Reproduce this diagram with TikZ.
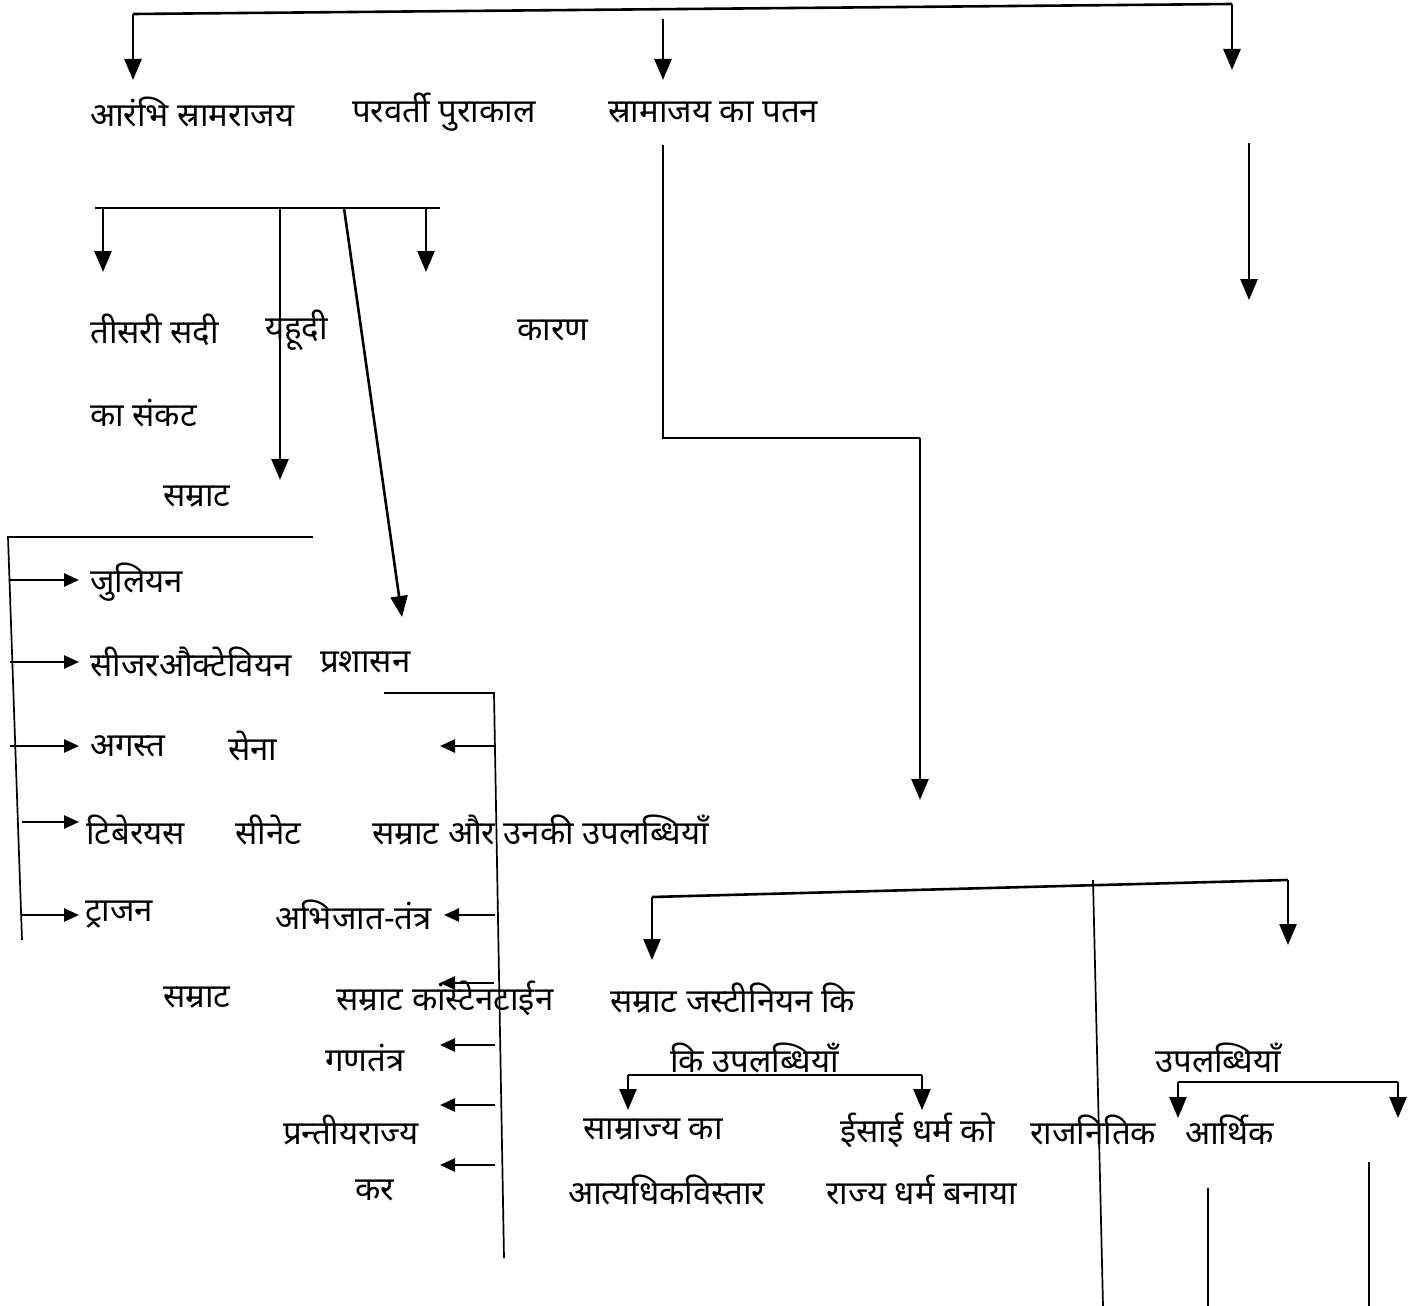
\documentclass[tikz,border=0pt]{standalone}
\usepackage{fontspec}
\newfontfamily\dev[Script=Devanagari]{Noto Sans}
\usetikzlibrary{arrows.meta}
\begin{document}
\begin{tikzpicture}[x=1pt,y=-1pt,
  lbl/.style={anchor=west,inner sep=0pt,font=\dev\fontsize{33}{38}\selectfont},
  ln/.style={line width=2.6pt},
  thin/.style={line width=1.7pt},
  arr/.style={line width=2.6pt,-{Triangle[width=17pt,length=21pt]}},
  harr/.style={line width=2.6pt,-{Triangle[width=13pt,length=15pt]}}]
\useasboundingbox[fill=white] (0,0) rectangle (1411,1306);
% texts
\node[lbl] (t1) at (90,112) {आरंभि स्रामराजय};
\node[lbl] (t2) at (352,112) {परवर्ती पुराकाल};
\node[lbl] (t3) at (608,112) {स्रामाजय का पतन};
\node[lbl] (t4) at (90,330) {तीसरी सदी};
\node[lbl] (t5) at (265,330) {यहूदी};
\node[lbl] (t6) at (517,330) {कारण};
\node[lbl] (t7) at (90,413) {का संकट};
\node[lbl] (t8) at (163,497) {सम्राट};
\node[lbl] (e1) at (90,582) {जुलियन};
\node[lbl] (e2) at (90,662) {सीजरऔक्टेवियन};
\node[lbl] (a1) at (320,662) {प्रशासन};
\node[lbl] (e3) at (90,746) {अगस्त};
\node[lbl] (a2) at (228,746) {सेना};
\node[lbl] (e4) at (86,830) {टिबेरयस};
\node[lbl] (a3) at (235,830) {सीनेट};
\node[lbl] (s1) at (372,830) {सम्राट और उनकी उपलब्धियाँ};
\node[lbl] (e5) at (85,915) {ट्राजन};
\node[lbl] (a4) at (275,915) {अभिजात-तंत्र};
\node[lbl] (r1) at (163,998) {सम्राट};
\node[lbl] (c1) at (336,998) {सम्राट कांस्टेनटाईन};
\node[lbl] (j1) at (610,998) {सम्राट जस्टीनियन कि};
\node[lbl] (a5) at (325,1058) {गणतंत्र};
\node[lbl] (j2) at (670,1058) {कि उपलब्धियाँ};
\node[lbl] (u1) at (1155,1058) {उपलब्धियाँ};
\node[lbl] (a6) at (283,1130) {प्रन्तीयराज्य};
\node[lbl] (j3) at (583,1130) {साम्राज्य का};
\node[lbl] (j4) at (840,1130) {ईसाई धर्म को};
\node[lbl] (u2) at (1030,1130) {राजनितिक};
\node[lbl] (u3) at (1185,1130) {आर्थिक};
\node[lbl] (a7) at (355,1190) {कर};
\node[lbl] (j5) at (568,1190) {आत्यधिकविस्तार};
\node[lbl] (j6) at (826,1190) {राज्य धर्म बनाया};
% coordinates
\coordinate (TL) at (133,14);
\coordinate (TR) at (1232,4);
\coordinate (TM) at (663,19);
\coordinate (TLe) at (133,80);
\coordinate (TMe) at (663,80);
\coordinate (TRe) at (1232,70);
\coordinate (R1s) at (1249,143);
\coordinate (R1e) at (1249,300);
\coordinate (F0) at (663,145);
\coordinate (F1) at (663,438);
\coordinate (F2) at (920,438);
\coordinate (F3) at (920,800);
\coordinate (B2l) at (95,208);
\coordinate (B2r) at (440,208);
\coordinate (B2a) at (103,208);
\coordinate (B2b) at (280,208);
\coordinate (B2c) at (426,208);
\coordinate (B2d) at (344,208);
\coordinate (EmR) at (313,537);
\coordinate (EmL) at (8,537);
\coordinate (EmB) at (22,940);
\coordinate (AdL) at (384,693);
\coordinate (AdT) at (494,693);
\coordinate (AdB) at (504,1258);
\coordinate (JL) at (652,897);
\coordinate (JR) at (1288,880);
\coordinate (V1t) at (1093,880);
\coordinate (V1b) at (1103,1306);
\coordinate (SBl) at (628,1075);
\coordinate (SBr) at (922,1075);
\coordinate (UBl) at (1178,1082);
\coordinate (UBr) at (1398,1082);
% connectors
\draw[ln] (TL) -- (TR);
\draw[arr] (TL) -- (TLe);
\draw[arr] (TM) -- (TMe);
\draw[arr] (TR) -- (TRe);
\draw[arr] (R1s) -- (R1e);
\draw[thin] (F0) -- (F1) -- (F2);
\draw[arr] (F2) -- (F3);
\draw[thin] (B2l) -- (B2r);
\draw[arr] (B2a) -- (103,272);
\draw[arr] (B2b) -- (280,480);
\draw[arr] (B2c) -- (426,272);
\draw[arr] (B2d) -- (402,617);
\draw[thin] (EmR) -- (EmL) -- (EmB);
\draw[harr] (9,580) -- (79,580);
\draw[harr] (10,662) -- (79,662);
\draw[harr] (10,746) -- (79,746);
\draw[harr] (22,822) -- (79,822);
\draw[harr] (22,915) -- (79,915);
\draw[thin] (AdL) -- (AdT) -- (AdB);
\draw[harr] (495,746) -- (440,746);
\draw[harr] (495,915) -- (444,915);
\draw[harr] (494,983) -- (440,983);
\draw[harr] (495,1045) -- (440,1045);
\draw[harr] (495,1105) -- (440,1105);
\draw[harr] (495,1165) -- (440,1165);
\draw[ln] (JL) -- (JR);
\draw[arr] (JL) -- (652,960);
\draw[arr] (JR) -- (1288,945);
\draw[thin] (V1t) -- (V1b);
\draw[thin] (SBl) -- (SBr);
\draw[arr] (SBl) -- (628,1110);
\draw[arr] (SBr) -- (922,1110);
\draw[thin] (UBl) -- (UBr);
\draw[arr] (UBl) -- (1178,1118);
\draw[arr] (UBr) -- (1398,1118);
\draw[thin] (1208,1188) -- (1208,1306);
\draw[thin] (1369,1162) -- (1369,1306);
\end{tikzpicture}
\end{document}
